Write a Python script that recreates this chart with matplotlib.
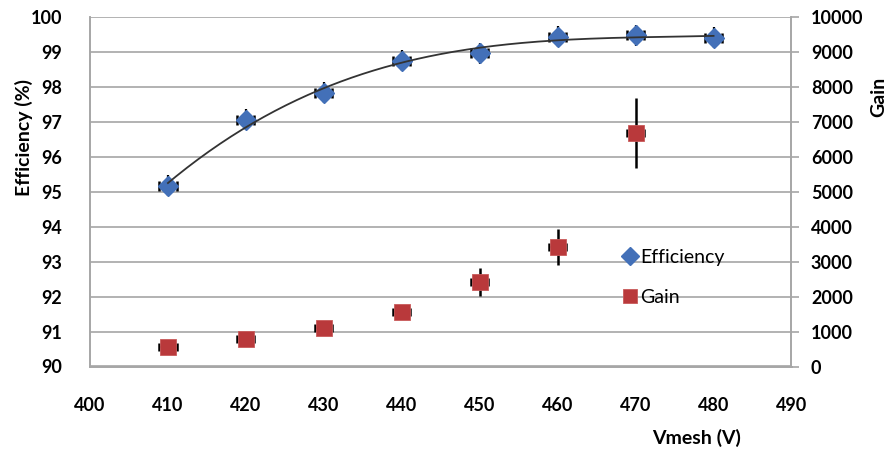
import matplotlib
matplotlib.use('Agg')
import numpy as np
import matplotlib.pyplot as plt

plt.rcParams['font.family'] = ['Lato', 'DejaVu Sans']

# Values
vmesh = [410, 420, 430, 440, 450, 460, 470, 480]
efficiency = [95.17, 97.06, 97.84, 98.75, 98.97, 99.44, 99.49, 99.42]
eff_err = [0.3, 0.3, 0.3, 0.3, 0.3, 0.3, 0.3, 0.3]
vmesh_gain = [410, 420, 430, 440, 450, 460, 470]
gain = [555, 795, 1100, 1570, 2430, 3420, 6680]
gain_err = [60, 80, 110, 200, 400, 510, 1000]
v_err = 1.1

blue = '#4370B8'
red = '#B9393B'
grid_col = '#A6A6A6'

fig = plt.figure(figsize=(8.94, 4.51), dpi=100)
ax = fig.add_axes([90 / 894, 1 - 366.5 / 451, (791.5 - 90) / 894, (366.5 - 17.3) / 451])
ax2 = ax.twinx()

# efficiency: vertical bars without caps, horizontal bars with caps
ax.errorbar(vmesh, efficiency, yerr=eff_err, fmt='none', ecolor='black',
            elinewidth=1.6, capsize=0, zorder=3)
ax.errorbar(vmesh, efficiency, xerr=v_err, fmt='none', ecolor='black',
            elinewidth=1.6, capsize=3.5, capthick=1.8, zorder=3)
ax.plot(vmesh, efficiency, 'D', color=blue, ms=10.5, zorder=4, label='Efficiency')
# polynomial trend line through the efficiency points
coef = np.polyfit(vmesh, efficiency, 3)
xs = np.linspace(vmesh[0], vmesh[-1], 200)
ax.plot(xs, np.polyval(coef, xs), color='#333333', lw=1.3, zorder=5)

# gain on the right axis
ax2.errorbar(vmesh_gain, gain, yerr=gain_err, fmt='none', ecolor='black',
             elinewidth=1.8, capsize=0, zorder=3)
ax2.errorbar(vmesh_gain, gain, xerr=v_err, fmt='none', ecolor='black',
             elinewidth=1.6, capsize=3, capthick=1.8, zorder=3)
ax2.plot(vmesh_gain, gain, 's', color=red, ms=11.5, mec='#C85A5A', mew=0.6, zorder=4, label='Gain')

ax.set_xlim(400, 490)
ax.set_ylim(90, 100)
ax2.set_ylim(0, 10000)
ax.set_xticks(range(400, 491, 10))
ax.set_yticks(range(90, 101, 1))
ax2.set_yticks(range(0, 10001, 1000))

ax.yaxis.grid(True, color=grid_col, lw=1.2)
ax.set_axisbelow(True)
ax.spines['top'].set_visible(False)
ax2.spines['top'].set_visible(False)
for s in ['left', 'bottom', 'right']:
    ax2.spines[s].set_color(grid_col)
    ax2.spines[s].set_linewidth(1.2)
    ax.spines[s].set_color(grid_col)
    ax.spines[s].set_linewidth(1.2)

ax.tick_params(axis='y', length=0, pad=20, labelsize=13)
ax.tick_params(axis='x', length=0, pad=22, labelsize=13)
ax2.tick_params(axis='y', length=6, width=1.2, color=grid_col, pad=8, labelsize=13)
for lab in ax.get_xticklabels() + ax.get_yticklabels() + ax2.get_yticklabels():
    lab.set_fontweight('bold')

ax.set_ylabel('Efficiency (%)', fontsize=14, fontweight='bold')
ax.yaxis.set_label_coords(-57 / 701.5, (366.5 - 137) / 349.2)
ax2.set_ylabel('Gain', fontsize=14, fontweight='bold')
ax2.yaxis.set_label_coords(1 + 79 / 701.5, (366.5 - 97) / 349.2)
fig.text(697 / 894, 1 - 438 / 451, 'Vmesh (V)', fontsize=14, fontweight='bold',
         ha='center', va='center')

h1, l1 = ax.get_legend_handles_labels()
h2, l2 = ax2.get_legend_handles_labels()
leg = ax2.legend(h1 + h2, l1 + l2, loc='center left', bbox_to_anchor=(0.737, 0.255),
                 frameon=False, fontsize=14, handlelength=0.6, handletextpad=0.2,
                 labelspacing=1.2, markerscale=0.85)

fig.savefig('out.png', dpi=100)
